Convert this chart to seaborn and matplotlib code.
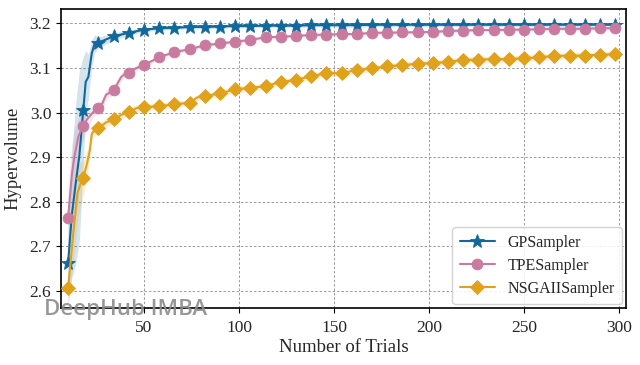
import numpy as np
import pandas as pd
import matplotlib
matplotlib.use("Agg")
import matplotlib.pyplot as plt
import seaborn as sns

# ---------------- data ----------------
marker_trials = list(range(10, 299, 8))
late_trials = list(range(58, 299, 8))

gp_x = [10, 12, 14, 16, 18, 19.3, 20.7, 22.5, 24, 26, 34, 42, 50] + late_trials
gp_y = [2.662, 2.77, 2.84, 2.905, 3.005, 3.069, 3.080, 3.133, 3.155, 3.157, 3.171, 3.179, 3.186,
        3.189, 3.190, 3.192, 3.192, 3.193, 3.194, 3.194, 3.195, 3.195, 3.195, 3.196,
        3.196, 3.196, 3.196, 3.197, 3.197, 3.197, 3.197, 3.197, 3.197, 3.197,
        3.197, 3.197, 3.197, 3.197, 3.197, 3.197, 3.197, 3.197, 3.197, 3.197]
gp_s = [0.09, 0.14, 0.18, 0.19, 0.12, 0.07, 0.05, 0.03, 0.02, 0.012, 0.008, 0.006, 0.005] + [0.004] * len(late_trials)

tpe_x = [10, 12, 13.3, 15.4, 18, 20, 22, 24, 26, 28, 30, 32, 34, 36, 38, 40, 42, 46, 50] + late_trials
tpe_y = [2.763, 2.86, 2.90, 2.946, 2.970, 2.985, 2.995, 3.005, 3.011, 3.02, 3.04, 3.045, 3.050,
         3.065, 3.08, 3.087, 3.089, 3.10, 3.107,
         3.124, 3.136, 3.142, 3.151, 3.155, 3.159, 3.163, 3.169, 3.170, 3.172, 3.174,
         3.175, 3.176, 3.176, 3.179, 3.179, 3.180, 3.180, 3.181, 3.183, 3.184, 3.185,
         3.185, 3.186, 3.186, 3.187, 3.188, 3.188, 3.188, 3.189, 3.189]
tpe_s = [0.07, 0.07, 0.06, 0.04, 0.03, 0.02, 0.015, 0.012, 0.012, 0.012, 0.012, 0.01, 0.01,
         0.01, 0.008, 0.008, 0.008, 0.006, 0.006] + [0.004] * len(late_trials)

nsga_x = [10, 11, 13, 15, 16.5, 18, 20, 21.5, 22.5, 24, 26, 30, 34, 38, 42, 46, 50,
          58, 66, 74, 78, 82] + list(range(90, 299, 8))
nsga_y = [2.606, 2.65, 2.74, 2.82, 2.84, 2.853, 2.886, 2.916, 2.953, 2.96, 2.965, 2.978, 2.985,
          2.995, 3.002, 3.01, 3.013,
          3.014, 3.019, 3.022, 3.034, 3.037,
          3.043, 3.052, 3.056, 3.059, 3.069, 3.073, 3.082, 3.088, 3.089, 3.095, 3.099,
          3.104, 3.106, 3.110, 3.111, 3.114, 3.118, 3.119, 3.120, 3.120, 3.122, 3.124,
          3.127, 3.128, 3.128, 3.130, 3.131]
nsga_s = [0.04, 0.05, 0.06, 0.06, 0.05, 0.04, 0.03, 0.02, 0.015, 0.012, 0.01, 0.01, 0.01,
          0.01, 0.008, 0.008, 0.008] + [0.007] * (len(nsga_x) - 17)

series = [
    ("GPSampler", gp_x, gp_y, gp_s, "#11689b", "*", 10.5),
    ("TPESampler", tpe_x, tpe_y, tpe_s, "#c97a9f", "o", 7.8),
    ("NSGAIISampler", nsga_x, nsga_y, nsga_s, "#e0a11b", "D", 6.8),
]

x_ticks = [50, 100, 150, 200, 250, 300]
y_ticks = [2.6, 2.7, 2.8, 2.9, 3.0, 3.1, 3.2]

# ---------------- plot ----------------
sns.set_style("white")
plt.rcParams["font.family"] = ["Liberation Serif", "DejaVu Serif"]

fig = plt.figure(figsize=(6.4, 3.65), dpi=100)
ax = fig.add_axes([0.0953, 0.156, 0.883, 0.819])

for name, xs, ys, ss, color, mk, ms in series:
    xs = np.asarray(xs, dtype=float)
    ys = np.asarray(ys, dtype=float)
    ss = np.asarray(ss, dtype=float)
    idx = [i for i, v in enumerate(xs) if v in marker_trials]
    ax.fill_between(xs, ys - ss, ys + ss, color=color, alpha=0.18, lw=0, zorder=2)
    df = pd.DataFrame({"trial": xs, "hv": ys})
    sns.lineplot(data=df, x="trial", y="hv", ax=ax, color=color, lw=1.5,
                 marker=mk, markersize=ms, markevery=idx, markeredgewidth=0.6,
                 markeredgecolor=color, label=name, zorder=3, errorbar=None)

ax.set_xlim(6.3, 303.7)
ax.set_ylim(2.562, 3.232)
ax.set_xticks(x_ticks)
ax.set_yticks(y_ticks)
ax.set_yticklabels([f"{v:.1f}" for v in y_ticks])
ax.tick_params(axis="both", labelsize=12.5, direction="out", length=3.5, width=0.8,
               left=True, bottom=True, color="black")
ax.tick_params(axis="x", pad=5)
ax.set_xlabel("Number of Trials", fontsize=13.5, labelpad=2)
ax.set_ylabel("Hypervolume", fontsize=13.5, labelpad=6)
ax.grid(True, color="#999999", linestyle=(0, (2.5, 2)), linewidth=0.7)
for sp in ax.spines.values():
    sp.set_color("black")
    sp.set_linewidth(1.2)

leg = ax.legend(loc="lower right", fontsize=11.5, frameon=True, fancybox=True,
                framealpha=0.85, edgecolor="#cccccc", handlelength=2.2,
                borderpad=0.45, labelspacing=0.45, borderaxespad=0.25)

fig.text(44 / 640, 1 - 315 / 365, "DeepHub IMBA", fontsize=16, fontweight=600,
         family=["Open Sans", "DejaVu Sans"], color="#8c8c8c", alpha=0.9,
         va="baseline", ha="left", zorder=10)

fig.savefig("out.png", dpi=100)
